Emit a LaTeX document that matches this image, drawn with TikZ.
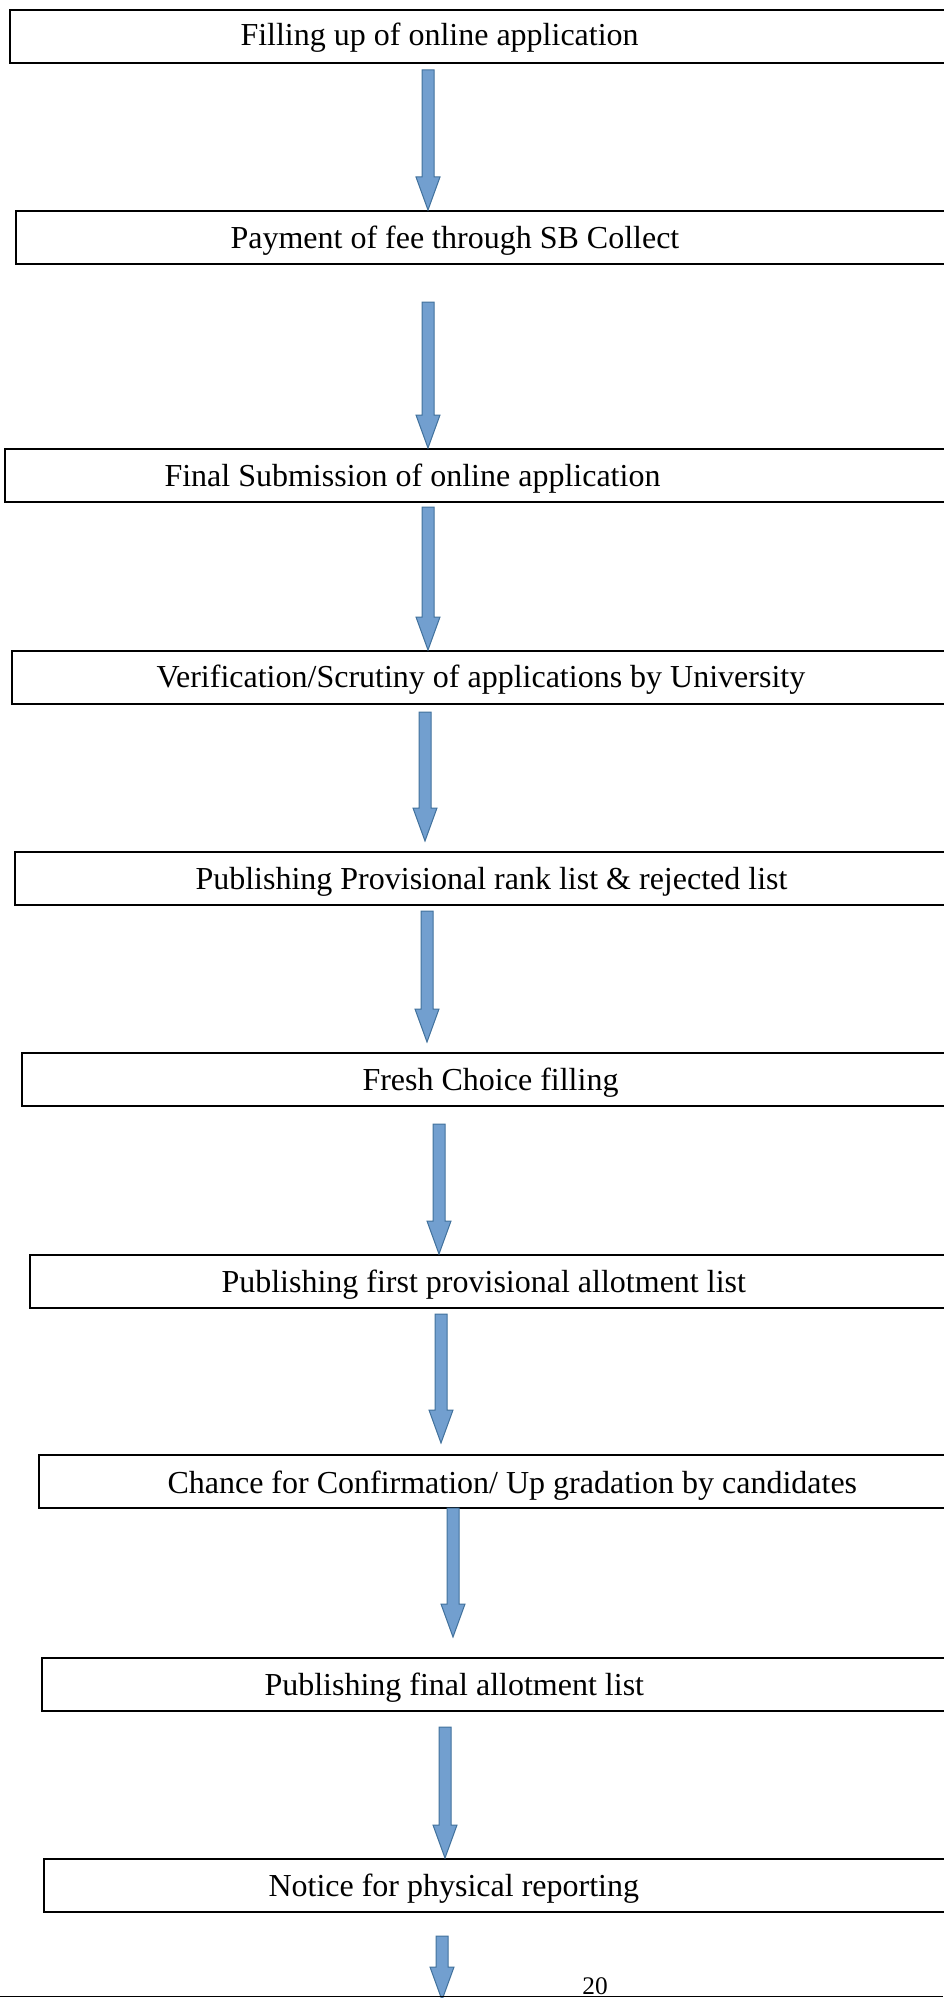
\documentclass[tikz,border=0pt]{standalone}
\usepackage{fontspec}
\setmainfont{Liberation Serif}
\usetikzlibrary{calc}

\tikzset{every picture/.style={line width=0.75pt}}
\tikzset{
	stepbox/.style={draw, line width=1.5pt, anchor=north west, inner sep=0pt, minimum width=740pt, minimum height=39.5pt},
	steptext/.style={anchor=base west, inner sep=0pt, font=\fontsize{24}{29}\selectfont},
	fatarrow/.style={draw={rgb, 255:red, 65; green, 113; blue, 156 }, fill={rgb, 255:red, 114; green, 159; blue, 207 }, line width=0.75pt, line join=miter}}

% block arrow: #1 start of the shaft, #2 tip
\newcommand{\blockarrow}[2]{%
	\draw [fatarrow] ($(#1)+(-6,0)$) -- ($(#2)+(-6,-33)$) -- ($(#2)+(-12,-33)$) -- (#2) -- ($(#2)+(12,-33)$) -- ($(#2)+(6,-33)$) -- ($(#1)+(6,0)$) -- cycle ;}

\begin{document}
\begin{tikzpicture}[x=0.75pt,y=0.75pt,yscale=-1,xscale=1]
	\useasboundingbox (0,0) rectangle (943,1998);

	%Shape: Rectangle [id:b1]
	\node [stepbox] (b1) at (9,9) {};
	%Shape: Rectangle [id:b2]
	\node [stepbox] (b2) at (15,210) {};
	%Shape: Rectangle [id:b3]
	\node [stepbox] (b3) at (4,448) {};
	%Shape: Rectangle [id:b4]
	\node [stepbox] (b4) at (11,650) {};
	%Shape: Rectangle [id:b5]
	\node [stepbox] (b5) at (14,851) {};
	%Shape: Rectangle [id:b6]
	\node [stepbox] (b6) at (21,1052) {};
	%Shape: Rectangle [id:b7]
	\node [stepbox] (b7) at (29,1254) {};
	%Shape: Rectangle [id:b8]
	\node [stepbox] (b8) at (38,1454) {};
	%Shape: Rectangle [id:b9]
	\node [stepbox] (b9) at (41,1657) {};
	%Shape: Rectangle [id:b10]
	\node [stepbox] (b10) at (43,1858) {};

	% Text Node
	\node [steptext] (t1) at (240,46) {Filling up of online application};
	% Text Node
	\node [steptext] (t2) at (230,248) {Payment of fee through SB Collect};
	% Text Node
	\node [steptext] (t3) at (164,486) {Final Submission of online application};
	% Text Node
	\node [steptext] (t4) at (156,687) {Verification/Scrutiny of applications by University};
	% Text Node
	\node [steptext] (t5) at (195,889) {Publishing Provisional rank list \& rejected list};
	% Text Node
	\node [steptext] (t6) at (362,1090) {Fresh Choice filling};
	% Text Node
	\node [steptext] (t7) at (221,1292) {Publishing first provisional allotment list};
	% Text Node
	\node [steptext] (t8) at (167,1493) {Chance for Confirmation/ Up gradation by candidates};
	% Text Node
	\node [steptext] (t9) at (264,1695) {Publishing final allotment list};
	% Text Node
	\node [steptext] (t10) at (268,1896) {Notice for physical reporting};

	% arrow ends
	\coordinate (s1) at (428,70);
	\coordinate (s2) at (428,302);
	\coordinate (s3) at (428,507);
	\coordinate (s4) at (425,712);
	\coordinate (e4) at (425,841);
	\coordinate (s5) at (427,911);
	\coordinate (e5) at (427,1042);
	\coordinate (s6) at (439,1124);
	\coordinate (s7) at (441,1314);
	\coordinate (e7) at (441,1443);
	\coordinate (s8) at (453,1508);
	\coordinate (e8) at (453,1637);
	\coordinate (s9) at (445,1727);
	\coordinate (s10) at (442,1936);
	\coordinate (e10) at (442,2000);

	%Right Arrow [id:a1]
	\blockarrow{s1}{s1 |- b2.north}
	%Right Arrow [id:a2]
	\blockarrow{s2}{s2 |- b3.north}
	%Right Arrow [id:a3]
	\blockarrow{s3}{s3 |- b4.north}
	%Right Arrow [id:a4]
	\blockarrow{s4}{e4}
	%Right Arrow [id:a5]
	\blockarrow{s5}{e5}
	%Right Arrow [id:a6]
	\blockarrow{s6}{s6 |- b7.north}
	%Right Arrow [id:a7]
	\blockarrow{s7}{e7}
	%Right Arrow [id:a8]
	\blockarrow{s8}{e8}
	%Right Arrow [id:a9]
	\blockarrow{s9}{s9 |- b10.north}
	%Right Arrow [id:a10]
	\blockarrow{s10}{e10}

	%Straight Lines [id:rule]
	\draw (0,1996.5) -- (943,1996.5) ;
	% Text Node
	\node [anchor=base, inner sep=0pt, font=\fontsize{19}{22}\selectfont] (pg) at (595,1994) {20};

\end{tikzpicture}
\end{document}
